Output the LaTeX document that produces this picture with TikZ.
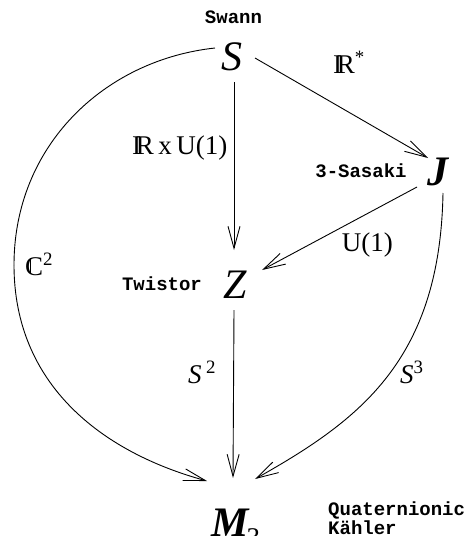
\documentclass[tikz,border=0pt]{standalone}
\usepackage{fontspec}
\setmainfont{Liberation Serif}
\newfontfamily\twfont{Liberation Mono}
\usetikzlibrary{arrows.meta}
\newcommand{\myIR}{I\kern-0.2em R}
\newcommand{\myC}{\makebox[0pt][l]{\hspace{0.16em}\rule[0.06em]{0.05em}{0.56em}}C}
\tikzset{
  big/.style={inner sep=0pt, font=\fontsize{42}{42}\selectfont\itshape},
  bigb/.style={inner sep=0pt, font=\fontsize{42}{42}\selectfont\bfseries\itshape},
  lab/.style={inner sep=0pt, font=\fontsize{27}{27}\selectfont},
  tw/.style={inner sep=0pt, font=\fontsize{19}{19}\selectfont\twfont\bfseries},
  arr/.style={line width=0.9pt, -{Straight Barb[length=22pt,width=12pt,line width=0.9pt]}}
}
\begin{document}
\begin{tikzpicture}[x=1pt,y=-1pt]
\useasboundingbox (0,0) rectangle (468,536);
% main nodes
\node[big, anchor=base] (S) at (232,70) {S};
\node[bigb, anchor=base] (J) at (438,185) {J};
\node[big, anchor=base] (Z) at (235,298) {Z};
\node[bigb, anchor=base west] (M) at (211,536) {M\kern-2pt\raisebox{-0.25em}{\fontsize{27}{27}\selectfont\upshape\mdseries 3}};
% text labels
\node[tw, anchor=base] (swann) at (233.5,23) {Swann};
\node[tw, anchor=base] (sasaki) at (361,177) {3-Sasaki};
\node[tw, anchor=base] (twistor) at (162,290) {Twistor};
\node[tw, anchor=base west] (quat) at (328,515) {Quaternionic};
\node[tw, anchor=base west] (kahler) at (328,534) {Kähler};
% edge labels
\node[lab, anchor=base west] (lRs) at (333,73) {\myIR\textsuperscript{*}};
\node[lab, anchor=base west] (lRU) at (132,154) {\myIR\,x\,U(1)};
\node[lab, anchor=base east] (lU) at (393,251) {U(1)};
\node[lab, anchor=base west] (lC) at (25,275) {\myC\textsuperscript{2}};
\node[lab, anchor=base west] (lS2) at (188,383) {\textit{S}\,\textsuperscript{2}};
\node[lab, anchor=base west] (lS3) at (400,383) {\textit{S}\textsuperscript{3}};
% connectors
\draw[arr] ([shift={(23,-12)}]S.base) -- ([shift={(-10,-27)}]J.base);
\draw[arr] ([shift={(2,12)}]S.base) -- ([shift={(-1,-48)}]Z.base);
\draw[arr] ([shift={(-21,2)}]J.base) -- ([shift={(27,-28)}]Z.base);
\draw[arr] ([shift={(-1,12)}]Z.base) -- ([shift={(22,-58)}]M.base west);
\draw[arr] ([shift={(5,8)}]J.base) .. controls (440,360) and (360,420) .. ([shift={(44,-57)}]M.base west);
\draw[line width=0.9pt] ([shift={(-17,-22)}]S.base) .. controls (104,60) and (14,146) .. (14,265) coordinate (leftmost);
\draw[arr] (leftmost) .. controls (14,384) and (101,452) .. ([shift={(-4,-55)}]M.base west);
\end{tikzpicture}
\end{document}
